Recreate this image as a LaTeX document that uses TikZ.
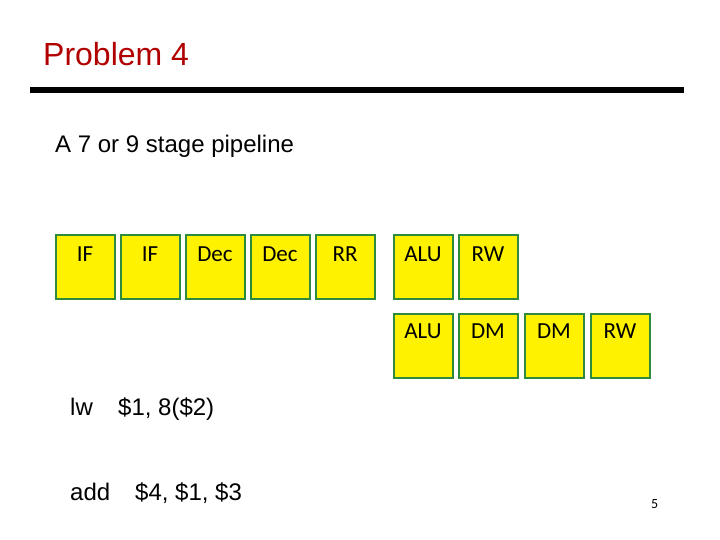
\documentclass[tikz,border=0pt]{standalone}
\usepackage{fontspec}
\setmainfont{Liberation Sans}
\newfontfamily\calib{Carlito}
\definecolor{titlered}{HTML}{B00000}
\definecolor{boxgreen}{HTML}{2E8B3E}
\begin{document}
\begin{tikzpicture}[x=1pt,y=-1pt,
  stagebox/.style={draw=boxgreen,line width=2pt,fill=yellow,minimum width=59pt,minimum height=64pt,anchor=north west,inner sep=0pt},
  stagelbl/.style={font=\calib\fontsize{23}{26}\selectfont,anchor=center},
  body/.style={font=\fontsize{24}{28}\selectfont,anchor=base west,inner sep=0pt}]
\useasboundingbox (0,0) rectangle (720,540);
\node[font=\fontsize{32}{36}\selectfont,text=titlered,anchor=base west,inner sep=0pt] (title) at (43,66) {Problem 4};
\fill (30,87) rectangle (684,93);
\node[body] (sub) at (55,153) {A 7 or 9 stage pipeline};
% row 1
\foreach \x/\t/\n in {55/IF/a,120/IF/b,185/Dec/c,250/Dec/d,315/RR/e,393/ALU/f,458/RW/g}{
  \node[stagebox] (\n) at (\x,234) {};
  \node[stagelbl] (\n l) at (\x+30,254) {\t};
}
% row 2
\foreach \x/\t/\n in {393/ALU/h,458/DM/i,524/DM/j,590/RW/k}{
  \node[stagebox] (\n) at (\x,313) {};
  \node[stagelbl] (\n l) at (\x+30,331) {\t};
}
\node[body] (lw) at (70,415) {lw};
\node[body] (lwa) at (118,415) {\$1, 8(\$2)};
\node[body] (add) at (70,500) {add};
\node[body] (adda) at (135,500) {\$4, \$1, \$3};
\node[font=\calib\fontsize{14}{16}\selectfont,anchor=base west,inner sep=0pt] (pg) at (651,508) {5};
\end{tikzpicture}
\end{document}
